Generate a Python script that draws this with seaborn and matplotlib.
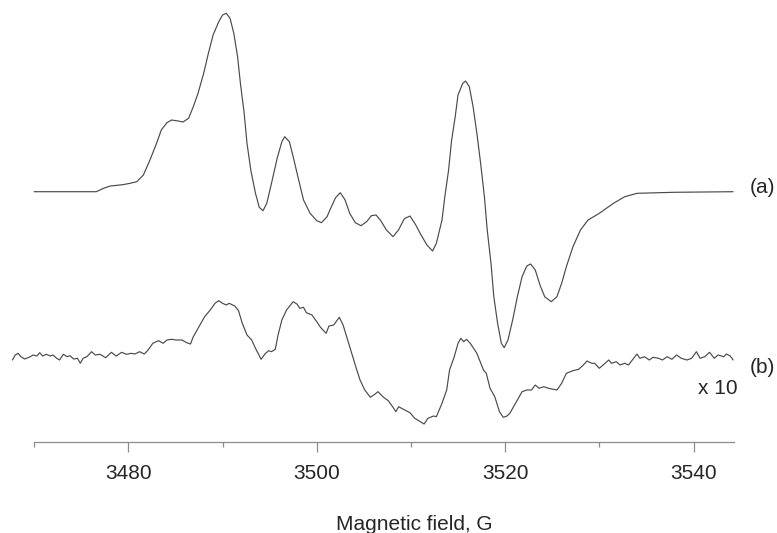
import matplotlib
matplotlib.use("Agg")
import matplotlib.pyplot as plt
import pandas as pd
import seaborn as sns

# EPR spectrum (a), field in G, intensity in arbitrary units
field_a = [3470.0, 3476.6, 3477.4, 3478.1, 3479.4, 3480.2, 3480.9, 3481.6, 3482.3, 3483.0,
           3483.5, 3484.1, 3484.6, 3485.3, 3485.8, 3486.4, 3486.9, 3487.4, 3488.0, 3488.5,
           3489.0, 3489.6, 3490.0, 3490.4, 3490.8, 3491.2, 3491.6, 3491.9, 3492.3, 3492.6,
           3493.0, 3493.5, 3493.9, 3494.3, 3494.7, 3495.2, 3495.8, 3496.3, 3496.6, 3497.1,
           3497.5, 3498.0, 3498.6, 3499.3, 3500.0, 3500.5, 3501.1, 3501.4, 3502.0, 3502.5,
           3503.0, 3503.5, 3504.1, 3504.7, 3505.3, 3505.8, 3506.3, 3506.8, 3507.4, 3508.1,
           3508.7, 3509.3, 3509.9, 3510.5, 3511.0, 3511.7, 3512.3, 3512.7, 3513.3, 3513.6,
           3514.0, 3514.3, 3514.7, 3515.0, 3515.5, 3515.8, 3516.2, 3516.6, 3517.0, 3517.4,
           3517.8, 3518.1, 3518.5, 3518.8, 3519.2, 3519.6, 3519.9, 3520.3, 3520.8, 3521.3,
           3521.8, 3522.3, 3522.7, 3523.2, 3523.7, 3524.2, 3524.9, 3525.5, 3526.0, 3526.5,
           3527.2, 3528.0, 3528.8, 3530.0, 3531.5, 3532.7, 3534.0, 3537.9, 3544.2]
signal_a = [0, 0, 3.5, 5.7, 7, 8.4, 10, 16.7, 31.7, 48.4,
            61.7, 69, 71.7, 70.7, 69.7, 73.4, 85, 98.4, 118.4, 138.4,
            156.7, 170, 176.7, 178.4, 173.4, 158.4, 135, 108.4, 78.4, 48.4,
            21.7, -1.6, -15.6, -19, -11.6, 8.4, 33.4, 50, 55, 50,
            35, 15, -8.3, -21.6, -29, -31, -25, -18.3, -6, -1,
            -8, -21.6, -31, -34, -30, -24, -23.3, -29, -38.3, -45,
            -38, -27, -24.3, -33, -42, -53.3, -59.3, -51.6, -28.3, -5,
            21.7, 50, 75, 96.7, 108.4, 110.7, 105, 85, 58.4, 28.4,
            -5, -38.3, -71.6, -105, -131.6, -151.6, -156, -148.3, -128.3, -105,
            -85, -74.3, -72.3, -78.3, -93.3, -105, -110, -105, -91.6, -75,
            -55, -38.3, -28.3, -21.6, -11.6, -5, -1.6, -0.6, 0]

# spectrum (b), shown x 10
field_b = [3467.7, 3468.0, 3468.3, 3468.6, 3469.0, 3469.6, 3469.9, 3470.3, 3470.6, 3470.9,
           3471.3, 3471.7, 3472.0, 3472.4, 3472.7, 3473.1, 3473.5, 3473.8, 3474.2, 3474.6,
           3474.9, 3475.2, 3475.6, 3476.1, 3476.5, 3477.0, 3477.6, 3478.2, 3478.7, 3479.3,
           3479.8, 3480.3, 3480.7, 3481.2, 3481.7, 3482.1, 3482.6, 3483.2, 3483.7, 3484.1,
           3484.6, 3485.1, 3485.7, 3486.2, 3486.6, 3486.9, 3487.6, 3488.1, 3488.7, 3489.2,
           3489.6, 3490.0, 3490.4, 3490.7, 3491.3, 3491.7, 3492.1, 3492.6, 3493.1, 3493.5,
           3494.1, 3494.5, 3494.9, 3495.2, 3495.6, 3495.9, 3496.3, 3496.8, 3497.5, 3497.9,
           3498.2, 3498.6, 3498.9, 3499.5, 3500.0, 3500.4, 3501.0, 3501.3, 3501.8, 3502.4,
           3502.8, 3503.5, 3504.2, 3504.6, 3505.1, 3505.7, 3506.2, 3506.5, 3507.1, 3507.6,
           3508.1, 3508.4, 3508.7, 3509.2, 3509.9, 3510.4, 3511.0, 3511.4, 3511.8, 3512.4,
           3512.7, 3513.3, 3513.8, 3514.1, 3514.6, 3515.0, 3515.3, 3515.6, 3515.9, 3516.3,
           3517.0, 3517.7, 3518.0, 3518.4, 3518.9, 3519.4, 3519.8, 3520.2, 3520.5, 3521.2,
           3521.8, 3522.3, 3522.8, 3523.2, 3523.6, 3524.1, 3524.6, 3525.1, 3525.5, 3526.0,
           3526.5, 3527.2, 3527.8, 3528.3, 3528.7, 3529.2, 3529.5, 3530.0, 3530.4, 3531.0,
           3531.3, 3531.8, 3532.2, 3532.7, 3533.1, 3533.5, 3534.0, 3534.3, 3534.8, 3535.3,
           3535.7, 3536.3, 3536.7, 3537.2, 3537.7, 3538.2, 3538.7, 3539.3, 3539.8, 3540.3,
           3540.7, 3541.2, 3541.7, 3542.2, 3542.6, 3543.2, 3543.5, 3543.9, 3544.2]
signal_b = [-4, 1, 2.7, -0.7, -3, -0.7, 1, 0, 3.3, 0,
            1.7, 0, 1, -2.3, -4, 1.7, -0.7, 0.3, -3, -2.3,
            -7.3, -2.3, -0.7, 4.3, 1, 1.7, -1.7, 3.7, 0, 3.7,
            1.7, 2.7, 2, 4.3, 2, 6, 12.7, 15.3, 12.7, 16,
            16.7, 16, 16, 13.3, 12, 19.3, 31, 39.3, 46, 52.7,
            55.3, 52.7, 51, 52.7, 50, 45.3, 32.7, 21, 16, 7.7,
            -3.3, 2, 5.3, 4.3, 6.7, 21, 36, 46, 54.3, 52,
            47.7, 48.7, 43.3, 41, 34.3, 28.7, 22.7, 30, 31, 38.7,
            31, 9.3, -12.3, -24, -34, -41.3, -38, -35.7, -41.3, -44.7,
            -51.3, -55.7, -50.7, -53.3, -56.7, -62.3, -65.7, -68, -62.3, -60,
            -60.7, -47.3, -34, -14, -0.7, 12.7, 17.7, 14.3, 16.7, 12.7,
            2.7, -14, -17.3, -32.3, -40.7, -55.7, -61.3, -60, -57.3, -45.7,
            -35.7, -34, -34, -29, -32.3, -30.7, -32.3, -33.3, -34, -27.3,
            -17.3, -14.7, -13.3, -9, -5, -7.3, -7.3, -12.3, -9, -4,
            -7.3, -5.7, -9, -7.3, -9, -4, 2, -2.3, -0.7, -4,
            -1.3, -2.3, -4, -0.7, -3.3, 1, -2.3, -4, -2.3, 4.3,
            -2.3, -0.7, 3.7, -2.3, 1, -0.7, 2, 0, -4]
offset_b = -164.3

major_ticks = [3480, 3500, 3520, 3540]
minor_ticks = [3470, 3490, 3510, 3530]

sns.set_style("white")
plt.rcParams['font.family'] = ['Liberation Sans', 'DejaVu Sans']

df_a = pd.DataFrame({'field': field_a, 'signal': signal_a})
df_b = pd.DataFrame({'field': field_b, 'signal': [v + offset_b for v in signal_b]})

fig = plt.figure(figsize=(7.77, 5.33), dpi=100)
ax = fig.add_axes([0.00752, 0.17073, 0.9578, 0.8105])

line_color = '#4a4a4a'
sns.lineplot(data=df_a, x='field', y='signal', ax=ax, sort=False, estimator=None,
             color=line_color, lw=0.85)
sns.lineplot(data=df_b, x='field', y='signal', ax=ax, sort=False, estimator=None,
             color=line_color, lw=0.85)

ax.set_xlim(3467, 3546)
ax.set_ylim(-250.3, 181.7)

for s in ['left', 'top', 'right']:
    ax.spines[s].set_visible(False)
ax.spines['bottom'].set_bounds(3470, 3544.3)
ax.spines['bottom'].set_color('#8c8c8c')
ax.spines['bottom'].set_linewidth(0.9)

ax.set_yticks([])
ax.set_xticks(major_ticks)
ax.set_xticks(minor_ticks, minor=True)
ax.tick_params(axis='x', which='major', direction='out', length=7, width=0.9,
               color='#8c8c8c', labelsize=15, pad=9, bottom=True)
ax.tick_params(axis='x', which='minor', direction='out', length=3.5, width=0.9,
               color='#8c8c8c', bottom=True)

ax.set_ylabel('')
ax.set_xlabel('Magnetic field, G', fontsize=15)
ax.xaxis.set_label_coords(0.5485, -0.168)

# labels of the traces
ax.text(3546.0, 4.7, '(a)', fontsize=15, ha='left', va='center')
ax.text(3546.0, -175.3, '(b)', fontsize=15, ha='left', va='center')
ax.text(3544.7, -196.8, 'x 10', fontsize=15, ha='right', va='center')

plt.savefig('out.png', dpi=100)
plt.close()
